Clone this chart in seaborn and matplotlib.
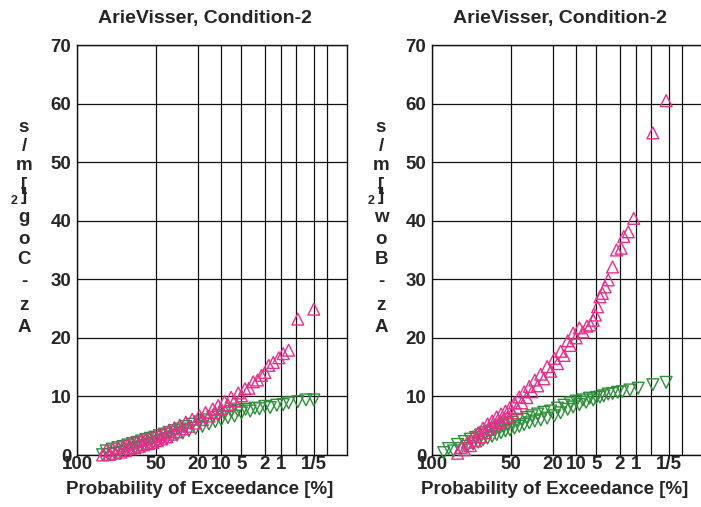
import numpy as np
import pandas as pd
import matplotlib
matplotlib.use("Agg")
import matplotlib.pyplot as plt
import seaborn as sns

# ---------------- data (exceedance probability [%], value [m/s^2]) ----------------
# Left panel: Az-Cog
cog_up_p = [93, 91, 89, 87, 85, 83, 81, 79, 77, 75, 73, 71, 69, 67, 65, 63, 61, 59, 57, 55,
            53, 51, 49, 47, 45, 43, 41, 39, 37, 35, 33, 31, 29, 27, 25, 23, 21, 19, 17.5, 16,
            14.5, 13, 12, 11, 10, 9, 8, 7.2, 6.4, 5.6, 5.0, 4.4, 3.8, 3.2, 2.7, 2.3, 2.0, 1.7,
            1.4, 1.1, 0.9, 0.7, 0.45, 0.2]
cog_up_v = [0.0, 0.8, 0.1, 1.05, 0.3, 1.3, 0.5, 1.55, 0.75, 1.85,
            1.05, 2.05, 1.25, 2.3, 1.5, 2.55, 1.75, 2.75, 1.95, 2.95,
            2.15, 3.2, 2.45, 3.5, 2.75, 3.85, 3.1, 4.25, 3.55, 4.65,
            3.95, 5.1, 4.45, 5.6, 4.9, 6.1, 5.45, 6.7, 6.05, 7.25,
            6.65, 7.85, 7.25, 8.45, 7.85, 9.15, 8.55, 9.85, 9.25,
            10.6, 10.1, 11.3, 11.4, 12.5, 12.8, 13.6, 14.1, 15.3, 15.8, 16.6, 17.3, 17.9, 23.2, 24.9]
cog_dn_p = [93, 91, 89, 87, 85, 83, 81, 79, 77, 75, 73, 71, 69, 67, 65, 63, 61, 59, 57, 55,
            53, 51, 49, 47, 45, 43, 41, 39, 37, 35, 33, 31, 29, 27, 25, 23, 21, 19, 17.5, 16,
            14.5, 13, 12, 11, 10, 9, 8, 7.2, 6.4, 5.7, 5.0, 4.3, 3.6, 3.0, 2.5, 2.0, 1.6, 1.2,
            0.9, 0.7, 0.45, 0.3, 0.2]
cog_dn_v = [0.05, 0.7, 0.1, 1.0, 0.3, 1.25, 0.45, 1.45, 0.7, 1.7,
            0.9, 1.95, 1.15, 2.15, 1.35, 2.4, 1.6, 2.65, 1.85, 2.85,
            2.05, 3.05, 2.25, 3.3, 2.55, 3.55, 2.8, 3.85, 3.1, 4.15,
            3.4, 4.45, 3.75, 4.85, 4.15, 5.25, 4.55, 5.65, 4.9, 6.0,
            5.3, 6.45, 5.7, 6.75, 6.0, 7.1, 6.4, 7.45, 6.65,
            7.6, 7.2, 7.8, 7.5, 8.0, 7.9, 8.3, 8.1, 8.5, 8.6, 8.9, 9.1, 9.4, 9.4]

# Right panel: Az-Bow
bow_up_p = [93, 91, 89, 87, 85, 83, 81, 79, 77, 75, 73, 71, 69, 67, 65, 63, 61, 59, 57, 55,
            53, 51, 49, 47, 45, 43, 41, 39, 37, 35, 33, 31, 29, 27, 25, 23, 21, 19, 17.5, 16,
            14.5, 13, 12, 11, 10, 9, 8, 7.0, 6.2, 5.6, 5.2, 4.8, 4.4, 4.0, 3.6, 3.2, 2.7, 2.3,
            1.9, 1.7, 1.4, 1.1, 0.45, 0.23]
bow_up_v = [0.3, 1.3, 0.9, 2.2, 1.6, 3.1, 2.4, 3.8, 3.1, 4.6,
            3.8, 5.3, 4.4, 5.8, 5.0, 6.5, 5.5, 7.0, 6.0, 7.5,
            6.5, 8.1, 7.2, 8.9, 8.0, 9.9, 8.9, 10.8, 9.8, 11.7,
            10.8, 12.8, 11.8, 13.8, 13.0, 15.1, 14.3, 16.5, 15.6, 17.7,
            17.0, 19.5, 18.7, 20.8, 20.0, 21.7, 21.0,
            22.0, 22.2, 23.0, 23.9, 25.3, 27.0, 27.6, 28.7, 29.9, 32.1, 35.0,
            35.3, 37.3, 38.1, 40.4, 55.0, 60.5]
bow_dn_p = [98.5, 97, 95, 93, 91, 89, 87, 85, 83, 81, 79, 77, 75, 73, 71, 69, 67, 65, 63, 61,
            59, 57, 55, 53, 51, 49, 47, 45, 43, 41, 39, 37, 35, 33, 31, 29, 27, 25, 23, 21,
            19, 17.5, 16, 14.5, 13, 12, 11, 10, 9, 8, 7.2, 6.4, 5.6, 5.0, 4.4, 3.8, 3.2, 2.7,
            2.2, 1.8, 1.3, 0.9, 0.45, 0.23]
bow_dn_v = [0.4, 1.1, 0.7, 1.8, 1.1, 2.3, 1.5, 2.7, 1.9, 3.0,
            2.2, 3.4, 2.6, 3.8, 2.9, 4.1, 3.2, 4.4, 3.5, 4.7,
            3.8, 5.0, 4.1, 5.3, 4.3, 5.6, 4.6, 5.9, 4.9, 6.1,
            5.2, 6.4, 5.5, 6.7, 5.8, 7.0, 6.0, 7.3, 6.3, 7.5,
            6.7, 8.0, 7.2, 8.5, 7.8, 8.9, 8.2, 9.2, 8.6, 9.4,
            9.0, 9.7, 9.4, 9.8, 9.9, 10.1, 10.4, 10.5, 10.7, 10.8,
            11.1, 11.4, 12.0, 12.4]

tick_p = [100, 50, 20, 10, 5, 2, 1, 0.5, 0.2, 0.1]
tick_lbl = ["100", "50", "20", "10", "5", "2", "1", "", "1/5", ""]
y_ticks = [0, 10, 20, 30, 40, 50, 60, 70]
title_txt = "ArieVisser, Condition-2"
xlabel_txt = "Probability of Exceedance [%]"

PINK = "#E4308C"
GREEN = "#2F8F3A"


def rayleigh(p):
    return np.sqrt(-np.log(np.asarray(p, dtype=float) / 100.0))


sns.set_style("white")
plt.rcParams["font.family"] = ["Liberation Sans", "DejaVu Sans"]
plt.rcParams["font.weight"] = "bold"

W, H = 701, 507
fig = plt.figure(figsize=(W / 100, H / 100), dpi=100)

XMAX = 2.842


def make_panel(left_px, up_p, up_v, dn_p, dn_v, label_chars, label_x):
    ax = fig.add_axes([left_px / W, (H - 455) / H, 270 / W, 410 / H])
    df_up = pd.DataFrame({"u": rayleigh(up_p), "v": up_v})
    df_dn = pd.DataFrame({"u": rayleigh(dn_p), "v": dn_v})
    for df, mk, col in ((df_dn, "v", GREEN), (df_up, "^", PINK)):
        sns.scatterplot(data=df, x="u", y="v", marker=mk, s=72, ax=ax,
                        color=col, linewidth=1.0, zorder=3, clip_on=False)
        coll = ax.collections[-1]
        coll.set_facecolor("none")
        coll.set_edgecolor(col)
    ax.set_xlim(0, XMAX)
    ax.set_ylim(0, 70)
    ax.set_xticks(rayleigh(tick_p))
    ax.set_xticklabels(tick_lbl)
    ax.set_yticks(y_ticks)
    ax.set_yticklabels([str(t) for t in y_ticks])
    ax.tick_params(length=0, labelsize=13.5, pad=4)
    ax.tick_params(axis="x", pad=1)
    for lbl in ax.get_xticklabels() + ax.get_yticklabels():
        lbl.set_fontweight("bold")
    ax.grid(True, color="#111111", linewidth=0.9)
    ax.set_axisbelow(True)
    for sp in ax.spines.values():
        sp.set_color("#111111")
        sp.set_linewidth(1.0)
    ax.set_xlabel("")
    ax.set_ylabel("")
    cx = left_px + 128
    fig.text(cx / W, 1 - 18 / H, title_txt, ha="center", va="center",
             fontsize=14, fontweight="bold")
    fig.text((left_px + 123) / W, 1 - 490 / H, xlabel_txt, ha="center", va="center",
             fontsize=13.5, fontweight="bold")
    ys = [127, 147, 166, 185, 196, 218, 239, 260, 282, 305, 327]
    for ch, yy in zip(label_chars, ys):
        fig.text(label_x / W, 1 - yy / H, ch, ha="center", va="center",
                 fontsize=13.5, fontweight="bold")
    fig.text((label_x - 10) / W, 1 - 201 / H, "2", ha="center", va="center",
             fontsize=9, fontweight="bold")
    return ax


make_panel(77, cog_up_p, cog_up_v, cog_dn_p, cog_dn_v,
           ["s", "/", "m", "[", "]", "g", "o", "C", "-", "z", "A"], 24)
make_panel(432, bow_up_p, bow_up_v, bow_dn_p, bow_dn_v,
           ["s", "/", "m", "[", "]", "w", "o", "B", "-", "z", "A"], 381)

fig.savefig("out.png", dpi=100)
